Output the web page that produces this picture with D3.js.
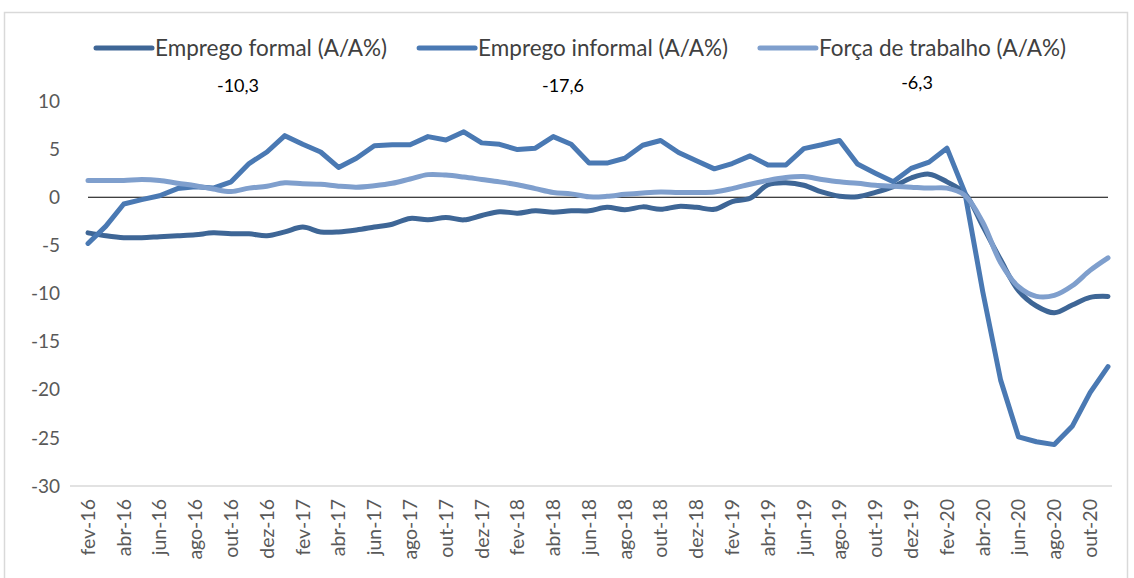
<!DOCTYPE html>
<html>
<head>
<meta charset="utf-8">
<title>Emprego formal, informal e força de trabalho</title>
<script src="https://d3js.org/d3.v7.min.js"></script>
<style>
  body { margin: 0; background: #fff; }
  svg text { font-family: Lato, "Open Sans", sans-serif; }
</style>
</head>
<body>
<div id="chart"></div>
<script>
// month labels (one per point)
var months = [
  "fev-16","mar-16","abr-16","mai-16","jun-16","jul-16","ago-16","set-16","out-16","nov-16","dez-16",
  "jan-17","fev-17","mar-17","abr-17","mai-17","jun-17","jul-17","ago-17","set-17","out-17","nov-17","dez-17",
  "jan-18","fev-18","mar-18","abr-18","mai-18","jun-18","jul-18","ago-18","set-18","out-18","nov-18","dez-18",
  "jan-19","fev-19","mar-19","abr-19","mai-19","jun-19","jul-19","ago-19","set-19","out-19","nov-19","dez-19",
  "jan-20","fev-20","mar-20","abr-20","mai-20","jun-20","jul-20","ago-20","set-20","out-20","nov-20"
];

var formal = [
  -3.7,-4.0,-4.2,-4.2,-4.1,-4.0,-3.9,-3.7,-3.8,-3.8,-4.0,
  -3.6,-3.1,-3.6,-3.6,-3.4,-3.1,-2.8,-2.2,-2.35,-2.1,-2.35,-1.9,
  -1.5,-1.65,-1.4,-1.55,-1.4,-1.4,-1.05,-1.3,-1.0,-1.25,-0.95,-1.05,
  -1.25,-0.45,-0.1,1.3,1.5,1.25,0.55,0.1,0.05,0.5,1.1,2.0,
  2.4,1.6,0.4,-3.0,-6.5,-9.7,-11.3,-12.0,-11.2,-10.4,-10.3
];

var informal = [
  -4.8,-3.0,-0.7,-0.25,0.15,0.9,1.1,0.95,1.6,3.5,4.7,
  6.4,5.5,4.7,3.1,4.05,5.35,5.45,5.45,6.3,5.95,6.8,5.65,
  5.5,4.95,5.1,6.3,5.5,3.55,3.55,4.05,5.4,5.9,4.65,3.8,
  2.95,3.5,4.3,3.35,3.35,5.05,5.45,5.9,3.45,2.5,1.6,3.0,
  3.65,5.1,0.5,-9.8,-19.0,-24.9,-25.4,-25.7,-23.8,-20.3,-17.6
];

var forca = [
  1.75,1.75,1.75,1.85,1.75,1.45,1.2,0.85,0.6,0.95,1.15,
  1.5,1.4,1.35,1.15,1.05,1.2,1.45,1.9,2.35,2.3,2.1,1.85,
  1.6,1.3,0.9,0.5,0.35,0.05,0.1,0.3,0.45,0.55,0.5,0.5,
  0.55,0.9,1.35,1.75,2.05,2.15,1.85,1.6,1.45,1.25,1.15,1.05,
  0.95,0.95,0.2,-2.6,-6.8,-9.3,-10.3,-10.2,-9.2,-7.6,-6.3
];

var seriesNames = ["Emprego formal (A/A%)", "Emprego informal (A/A%)", "Força de trabalho (A/A%)"];
var seriesColors = ["#3e6696", "#4a79b3", "#7f9fcd"];
var lastLabels = ["-10,3", "-17,6", "-6,3"];
var yTicks = [10, 5, 0, -5, -10, -15, -20, -25, -30];

var W = 1134, H = 578;

var svg = d3.select("#chart").append("svg")
    .attr("width", W)
    .attr("height", H);

// chart area border
svg.append("rect")
    .attr("x", 4.5).attr("y", 12.5)
    .attr("width", 1123).attr("height", 580)
    .attr("fill", "none")
    .attr("stroke", "#d9d9d9")
    .attr("stroke-width", 1.5);

var x = d3.scalePoint()
    .domain(months)
    .range([88, 1108]);

var y = d3.scaleLinear()
    .domain([-30, 10])
    .range([486, 101]);

// bottom line at -30
svg.append("line")
    .attr("x1", 70).attr("x2", 1112)
    .attr("y1", y(-30)).attr("y2", y(-30))
    .attr("stroke", "#d9d9d9")
    .attr("stroke-width", 1.5);

// y labels
svg.append("g")
    .selectAll("text")
    .data(yTicks)
    .enter().append("text")
    .attr("x", 60)
    .attr("y", function(d) { return y(d); })
    .attr("dy", "0.35em")
    .attr("text-anchor", "end")
    .attr("fill", "#595959")
    .style("font-size", "19px")
    .text(function(d) { return d; });

// x labels every two months
svg.append("g")
    .selectAll("text")
    .data(months.filter(function(d, i) { return i % 2 === 0; }))
    .enter().append("text")
    .attr("transform", function(d) { return "translate(" + x(d) + ",499) rotate(-90)"; })
    .attr("dy", "0.35em")
    .attr("text-anchor", "end")
    .attr("fill", "#595959")
    .style("font-size", "19.5px")
    .text(function(d) { return d; });

// zero line
svg.append("line")
    .attr("x1", x(months[0])).attr("x2", x(months[months.length - 1]))
    .attr("y1", y(0)).attr("y2", y(0))
    .attr("stroke", "#000")
    .attr("stroke-width", 1.2);

var series = [formal, informal, forca];
var curves = [d3.curveCatmullRom.alpha(0.5), d3.curveLinear, d3.curveCatmullRom.alpha(0.5)];

series.forEach(function(vals, k) {
    var line = d3.line()
        .x(function(d, i) { return x(months[i]); })
        .y(function(d) { return y(d); })
        .curve(curves[k]);
    svg.append("path")
        .datum(vals)
        .attr("d", line)
        .attr("fill", "none")
        .attr("stroke", seriesColors[k])
        .attr("stroke-width", 5)
        .attr("stroke-linejoin", "round")
        .attr("stroke-linecap", "round");
});

// legend
var legend = svg.append("g");
var lx = 0;
seriesNames.forEach(function(name, k) {
    var g = legend.append("g").attr("transform", "translate(" + lx + ",0)");
    g.append("line")
        .attr("x1", 0).attr("x2", 56)
        .attr("y1", 0).attr("y2", 0)
        .attr("stroke", seriesColors[k])
        .attr("stroke-width", 5)
        .attr("stroke-linecap", "round");
    var t = g.append("text")
        .attr("x", 59)
        .attr("dy", "0.35em")
        .attr("fill", "#404040")
        .style("font-size", "22.5px")
        .text(name);
    lx += 59 + t.node().getComputedTextLength() + 32;
});
lx -= 32;
legend.attr("transform", "translate(" + (581 - lx / 2) + ",48)");

// last values above the chart
var labelX = [238, 563, 917];
var labelY = [86, 86, 83];
lastLabels.forEach(function(s, k) {
    svg.append("text")
        .attr("x", labelX[k])
        .attr("y", labelY[k])
        .attr("dy", "0.35em")
        .attr("text-anchor", "middle")
        .attr("fill", "#000")
        .style("font-size", "18px")
        .text(s);
});
</script>
</body>
</html>
